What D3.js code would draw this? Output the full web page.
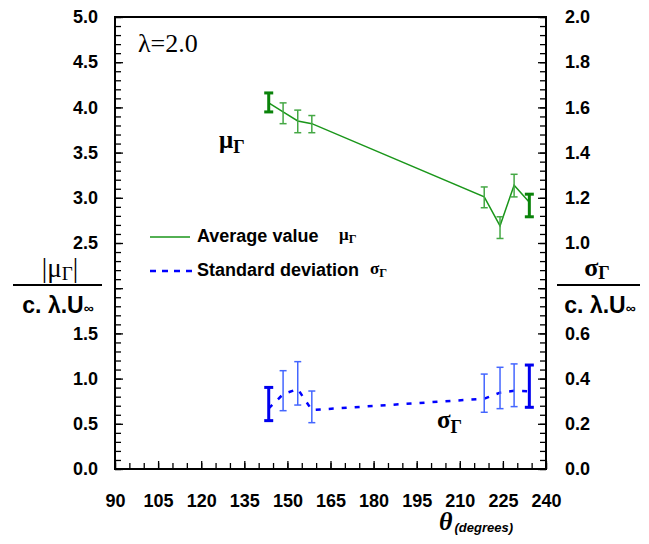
<!DOCTYPE html>
<html>
<head>
<meta charset="utf-8">
<script src="https://cdn.jsdelivr.net/npm/d3@7"></script>
<style>
  body { margin: 0; background: #fff; }
  .tick text { font-family: "Liberation Sans", Arial, sans-serif; font-weight: bold; font-size: 18px; fill: #000; }
  .domain { display: none; }
</style>
</head>
<body>
<div id="chart"></div>
<script>
// données (lambda = 2.0)
var thetaDeg  = [143.5, 148.5, 153.6, 158.5, 218.5, 224.0, 228.9, 234.2];
var muMean    = [4.05, 3.95, 3.85, 3.82, 3.01, 2.69, 3.14, 2.95];
var muLow     = [3.95, 3.82, 3.72, 3.72, 2.89, 2.55, 3.01, 2.79];
var muHigh    = [4.16, 4.05, 3.97, 3.91, 3.12, 2.79, 3.26, 3.04];
var sigmaMean = [0.268, 0.331, 0.354, 0.261, 0.311, 0.338, 0.346, 0.344];
var sigmaLow  = [0.214, 0.258, 0.283, 0.205, 0.251, 0.267, 0.276, 0.273];
var sigmaHigh = [0.361, 0.435, 0.475, 0.345, 0.420, 0.450, 0.465, 0.460];

var xTicks      = [90, 105, 120, 135, 150, 165, 180, 195, 210, 225, 240];
var yLeftTicks  = [0, 0.5, 1, 1.5, 2, 2.5, 3, 3.5, 4, 4.5, 5];
var yRightTicks = [0, 0.2, 0.4, 0.6, 0.8, 1, 1.2, 1.4, 1.6, 1.8, 2];
// labels cachés par les titres des axes y
var hiddenLeft = 2, hiddenRight = 0.8;

// dimensions
var margin = {top: 17, right: 103, bottom: 75, left: 115},
    W = 649, H = 544,
    width = W - margin.left - margin.right,
    height = H - margin.top - margin.bottom;

var svg = d3.select("#chart").append("svg")
    .attr("width", W)
    .attr("height", H);

var g = svg.append("g")
    .attr("transform", "translate(" + margin.left + "," + margin.top + ")");

var x  = d3.scaleLinear().domain([90, 240]).range([0, width]);
var yL = d3.scaleLinear().domain([0, 5]).range([height, 0]);
var yR = d3.scaleLinear().domain([0, 2]).range([height, 0]);

// ticks mineurs
g.append("g")
    .attr("transform", "translate(0," + height + ")")
    .call(d3.axisBottom(x).tickValues(d3.range(90, 241, 5)).tickSize(-6).tickFormat(""));
g.append("g")
    .call(d3.axisLeft(yL).tickValues(d3.range(0, 51).map(function(d) { return d / 10; })).tickSize(-6).tickFormat(""));
g.append("g")
    .attr("transform", "translate(" + width + ",0)")
    .call(d3.axisRight(yR).tickValues(d3.range(0, 51).map(function(d) { return d * 0.04; })).tickSize(-6).tickFormat(""));

// ticks majeurs + labels
var f1 = d3.format(".1f");
g.append("g")
    .attr("transform", "translate(0," + height + ")")
    .call(d3.axisBottom(x).tickValues(xTicks).tickSize(-8).tickPadding(25).tickFormat(d3.format("d")));
g.append("g")
    .call(d3.axisLeft(yL).tickValues(yLeftTicks).tickSize(-8).tickPadding(17)
        .tickFormat(function(d) { return d === hiddenLeft ? "" : f1(d); }));
g.append("g")
    .attr("transform", "translate(" + width + ",0)")
    .call(d3.axisRight(yR).tickValues(yRightTicks).tickSize(-8).tickPadding(19)
        .tickFormat(function(d) { return d === hiddenRight ? "" : f1(d); }));

g.selectAll(".tick line").attr("stroke", "#000").attr("stroke-width", 1.3);

// cadre
g.append("rect")
    .attr("width", width)
    .attr("height", height)
    .attr("fill", "none")
    .attr("stroke", "#000")
    .attr("stroke-width", 2);

var pts = thetaDeg.map(function(t, i) {
    return {t: t, mu: muMean[i], muLo: muLow[i], muHi: muHigh[i],
            s: sigmaMean[i], sLo: sigmaLow[i], sHi: sigmaHigh[i], i: i};
});
var n = pts.length;
function isBold(d) { return d.i === 0 || d.i === n - 1; }

// courbe moyenne
g.append("path")
    .datum(pts)
    .attr("fill", "none")
    .attr("stroke", "#1a961a")
    .attr("stroke-width", 1.5)
    .attr("d", d3.line().x(function(d) { return x(d.t); }).y(function(d) { return yL(d.mu); }));

// écart type
g.append("path")
    .datum(pts)
    .attr("fill", "none")
    .attr("stroke", "#0000ff")
    .attr("stroke-width", 2.5)
    .attr("stroke-dasharray", "5,8")
    .attr("d", d3.line().x(function(d) { return x(d.t); }).y(function(d) { return yR(d.s); }));

// barres d'erreur
function errorBars(cls, lo, hi, colBold, colThin, scale) {
    var eb = g.selectAll("." + cls).data(pts).enter().append("g")
        .attr("class", cls)
        .attr("stroke", function(d) { return isBold(d) ? colBold : colThin; })
        .attr("stroke-width", function(d) { return isBold(d) ? 3 : 1.5; });
    eb.append("line")
        .attr("x1", function(d) { return x(d.t); })
        .attr("x2", function(d) { return x(d.t); })
        .attr("y1", function(d) { return scale(d[lo]); })
        .attr("y2", function(d) { return scale(d[hi]); });
    [lo, hi].forEach(function(k) {
        eb.append("line")
            .attr("x1", function(d) { return x(d.t) - (isBold(d) ? 4.5 : 3.5); })
            .attr("x2", function(d) { return x(d.t) + (isBold(d) ? 4.5 : 3.5); })
            .attr("y1", function(d) { return scale(d[k]); })
            .attr("y2", function(d) { return scale(d[k]); });
    });
}
errorBars("ebmu", "muLo", "muHi", "#0a830a", "#45a845", yL);
errorBars("ebs", "sLo", "sHi", "#0000ee", "#4466ff", yR);

// textes
var serif = "'Liberation Serif', 'Times New Roman', serif";
var sans = "'Liberation Sans', Arial, sans-serif";

function greekSub(sel, letter, size) {
    sel.append("tspan").text(letter);
    sel.append("tspan").attr("font-size", size * 0.72).attr("dy", size * 0.2).text("Γ");
}

svg.append("text")
    .attr("x", 138).attr("y", 52)
    .attr("font-family", serif).attr("font-size", 26)
    .text("λ=2.0");

greekSub(svg.append("text")
    .attr("x", 219).attr("y", 148)
    .attr("font-family", serif).attr("font-weight", "bold").attr("font-size", 25), "μ", 25);

greekSub(svg.append("text")
    .attr("x", 437).attr("y", 428)
    .attr("font-family", serif).attr("font-weight", "bold").attr("font-size", 25), "σ", 25);

// légende
svg.append("line")
    .attr("x1", 150).attr("x2", 190).attr("y1", 237).attr("y2", 237)
    .attr("stroke", "#1a961a").attr("stroke-width", 1.5);
svg.append("text")
    .attr("x", 197).attr("y", 242)
    .attr("font-family", sans).attr("font-weight", "bold").attr("font-size", 18)
    .text("Average value");
greekSub(svg.append("text")
    .attr("x", 339).attr("y", 240)
    .attr("font-family", serif).attr("font-weight", "bold").attr("font-size", 17), "μ", 17);

svg.append("line")
    .attr("x1", 150).attr("x2", 192).attr("y1", 271).attr("y2", 271)
    .attr("stroke", "#0000ff").attr("stroke-width", 2.5)
    .attr("stroke-dasharray", "6,6");
svg.append("text")
    .attr("x", 197).attr("y", 276)
    .attr("font-family", sans).attr("font-weight", "bold").attr("font-size", 18)
    .text("Standard deviation");
greekSub(svg.append("text")
    .attr("x", 370).attr("y", 274)
    .attr("font-family", serif).attr("font-weight", "bold").attr("font-size", 17), "σ", 17);

// titres des axes y
function fracTitle(cx, x1, x2) {
    svg.append("line")
        .attr("x1", x1).attr("x2", x2).attr("y1", 285).attr("y2", 285)
        .attr("stroke", "#000").attr("stroke-width", 2);
    var t = svg.append("text")
        .attr("x", cx).attr("y", 313)
        .attr("text-anchor", "middle")
        .attr("font-family", sans).attr("font-weight", "bold").attr("font-size", 23);
    t.append("tspan").text("c. λ.U");
    t.append("tspan").attr("font-size", 14).text("∞");
}

fracTitle(58, 13, 102);
var lt = svg.append("text")
    .attr("x", 60).attr("y", 277)
    .attr("text-anchor", "middle")
    .attr("font-family", serif).attr("font-size", 27);
lt.append("tspan").text("|μ");
lt.append("tspan").attr("font-size", 19).attr("dy", 3).text("Γ");
lt.append("tspan").attr("dy", -3).text("|");

fracTitle(600, 557, 640);
var rt = svg.append("text")
    .attr("x", 597).attr("y", 276)
    .attr("text-anchor", "middle")
    .attr("font-family", serif).attr("font-weight", "bold").attr("font-size", 26);
rt.append("tspan").text("σ");
rt.append("tspan").attr("font-size", 18).attr("dy", 3).text("Γ");

// titre axe x
var xt = svg.append("text")
    .attr("x", 439).attr("y", 530);
xt.append("tspan")
    .attr("font-family", serif).attr("font-weight", "bold").attr("font-style", "italic").attr("font-size", 26)
    .text("θ");
xt.append("tspan")
    .attr("font-family", sans).attr("font-weight", "bold").attr("font-style", "italic").attr("font-size", 13)
    .attr("dx", 2).attr("dy", 2)
    .text("(degrees)");
</script>
</body>
</html>
